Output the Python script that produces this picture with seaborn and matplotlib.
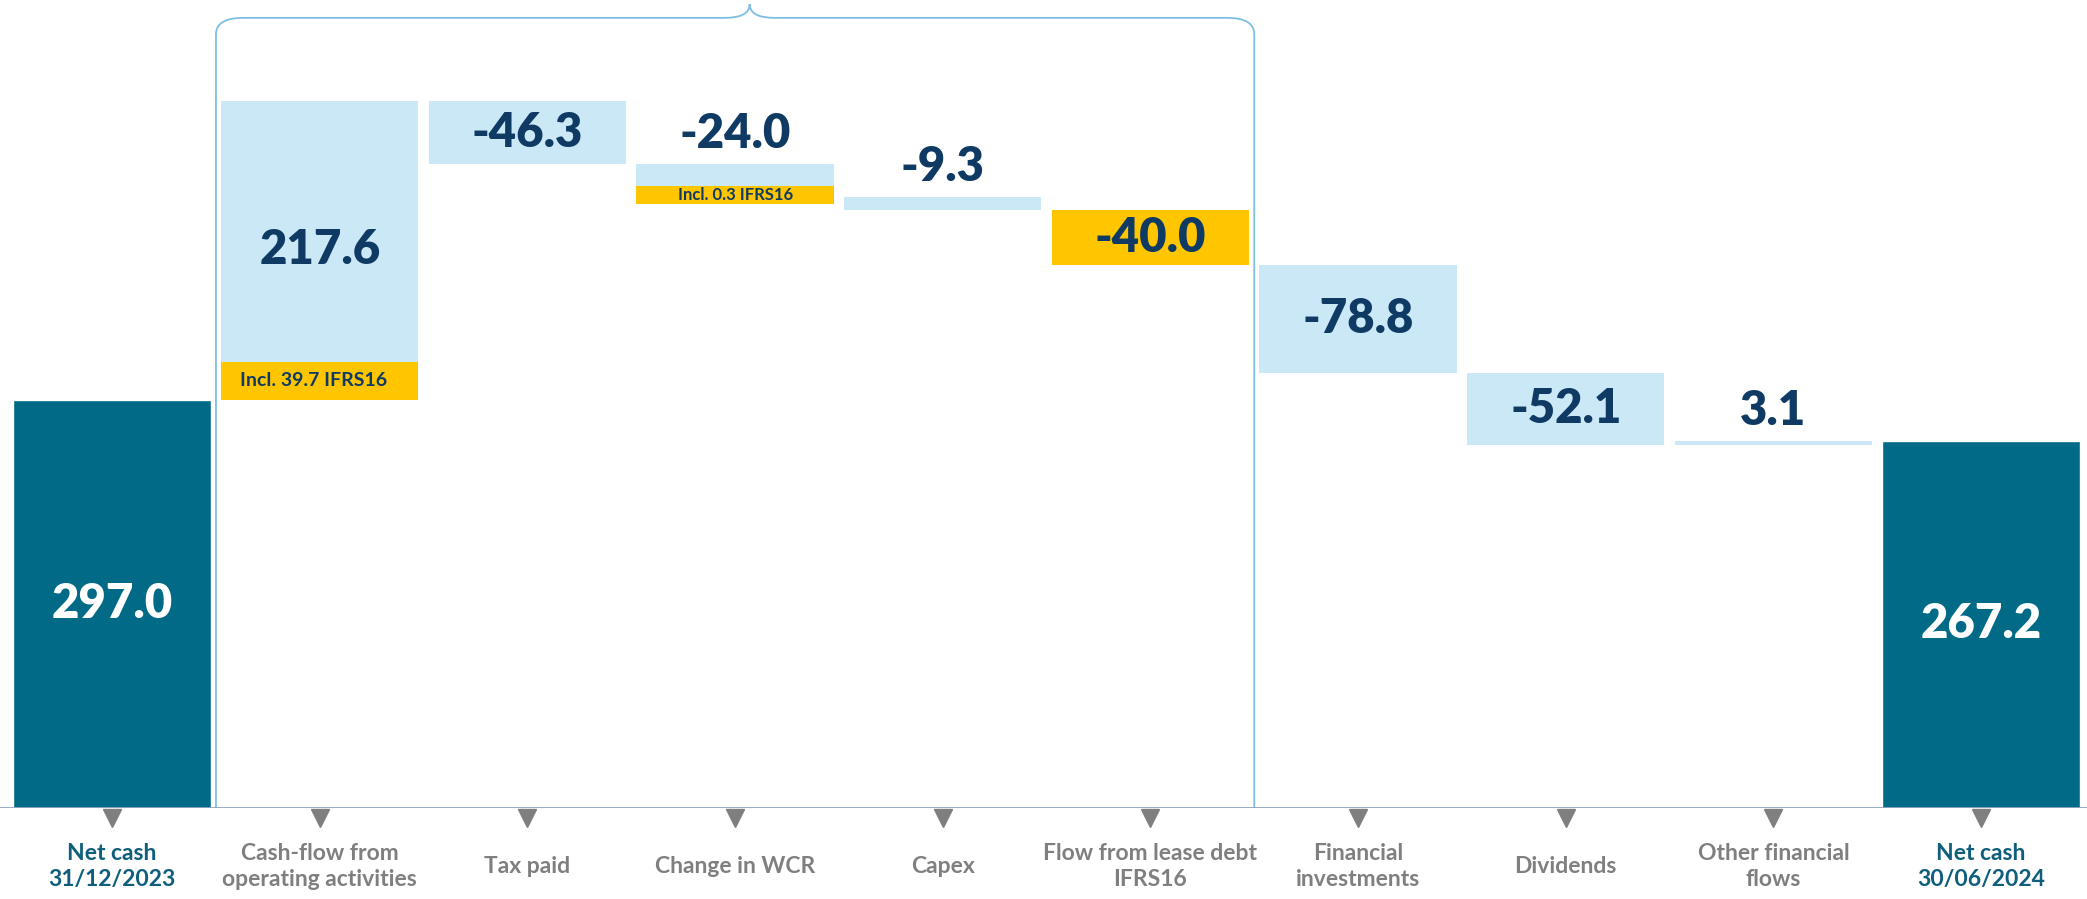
import numpy as np
import pandas as pd
import matplotlib
matplotlib.use("Agg")
import matplotlib.pyplot as plt
import seaborn as sns
from matplotlib.path import Path
from matplotlib.patches import PathPatch

# ---------------- data ----------------
categories = ["Net cash\n31/12/2023", "Cash-flow from\noperating activities", "Tax paid",
              "Change in WCR", "Capex", "Flow from lease debt\nIFRS16", "Financial\ninvestments",
              "Dividends", "Other financial\nflows", "Net cash\n30/06/2024"]
start_cash = 297.0
end_cash = 267.2
flows = [217.6, -46.3, -24.0, -9.3, -40.0, -78.8, -52.1, 3.1]
value_labels = ["217.6", "-46.3", "-24.0", "-9.3", "-40.0", "-78.8", "-52.1", "3.1"]
ifrs16_notes = {1: "Incl. 39.7 IFRS16", 3: "Incl. 0.3 IFRS16"}
lease_idx = 5

# ---------------- style ----------------
TEAL = "#006A87"
LIGHT = "#CBE8F6"
YELLOW = "#FFC600"
NAVY = "#0E3A64"
GREY = "#7F7F7F"
TEAL_TXT = "#0F5E7C"
BRACE = "#7DBFE3"
W = 0.95
VAL_FS = 34

sns.set_theme(style="white")
plt.rcParams["font.family"] = ["Lato", "DejaVu Sans"]

fig = plt.figure(figsize=(20.87, 8.99), dpi=100)
ax = fig.add_axes([0, 91 / 899, 1, 808 / 899])

# totals through seaborn
tot = pd.DataFrame({"cat": [categories[0], categories[-1]], "value": [start_cash, end_cash]})
sns.barplot(data=tot, x="cat", y="value", order=categories, color=TEAL,
            saturation=1, width=W, ax=ax)

# floating steps
levels = start_cash + np.cumsum([0] + flows)
prev = levels[:-1]
new = levels[1:]
bottoms = np.minimum(prev, new)
heights = np.abs(flows)
pos = np.arange(1, len(flows) + 1)
colors = [YELLOW if p == lease_idx else LIGHT for p in pos]
ax.bar(pos, heights, bottom=bottoms, width=W, color=colors, linewidth=0, zorder=2)

# IFRS16 strips
strip_h = {1: 27.6, 3: 13.0}
strip_drop = {1: 0.0, 3: 4.7}
for p, txt in ifrs16_notes.items():
    b = bottoms[p - 1] - strip_drop[p]
    ax.bar(p, strip_h[p], bottom=b, width=W, color=YELLOW, linewidth=0, zorder=3)
    ax.text(p - 0.03 if p == 1 else p, b + strip_h[p] / 2, txt, ha="center", va="center",
            color=NAVY, fontsize=14 if p == 1 else 12, fontweight="bold", zorder=4)

# value labels
for p, b, h, lab in zip(pos, bottoms, heights, value_labels):
    if h < 30:
        ax.text(p, b + h + 6, lab, ha="center", va="bottom", color=NAVY,
                fontsize=VAL_FS, fontweight="heavy", zorder=4)
    else:
        ax.text(p, b + h / 2, lab, ha="center", va="center", color=NAVY,
                fontsize=VAL_FS, fontweight="heavy", zorder=4)

ax.text(0, start_cash / 2, f"{start_cash:.1f}", ha="center", va="center",
        color="white", fontsize=VAL_FS, fontweight="heavy")
ax.text(len(categories) - 1, end_cash / 2, f"{end_cash:.1f}", ha="center", va="center",
        color="white", fontsize=VAL_FS, fontweight="heavy")

# brace over operating flows
yh, yt, r_y, r_x = 575, 585, 12, 0.13
xl, xr = 0.5, 5.5
xm = 3.07
verts = [(xl, 0), (xl, yh - r_y), (xl, yh), (xl + r_x, yh), (xm - 0.12, yh), (xm, yh), (xm, yt),
         (xm, yh), (xm + 0.12, yh), (xr - r_x, yh), (xr, yh), (xr, yh - r_y), (xr, 0)]
codes = [Path.MOVETO, Path.LINETO, Path.CURVE3, Path.CURVE3, Path.LINETO, Path.CURVE3, Path.CURVE3,
         Path.CURVE3, Path.CURVE3, Path.LINETO, Path.CURVE3, Path.CURVE3, Path.LINETO]
ax.add_patch(PathPatch(Path(verts, codes), fill=False, edgecolor=BRACE, lw=1.3,
                       clip_on=False, zorder=1))

# axis line, markers and category labels
ax.axhline(0, color="#8EA4BC", lw=2, zorder=5)
xt = ax.get_xaxis_transform()
ax.plot(np.arange(len(categories)), [-0.0125] * len(categories), "v", color=GREY,
        markersize=13, transform=xt, clip_on=False)
for i, c in enumerate(categories):
    is_total = i in (0, len(categories) - 1)
    ax.text(i, -0.072, c, transform=xt, ha="center", va="center", linespacing=1.3,
            color=TEAL_TXT if is_total else GREY, fontsize=16.5, fontweight="bold")

ax.set_xlim(-0.54, 9.51)
ax.set_ylim(0, 588)
ax.set_xticks([])
ax.set_yticks([])
ax.set_xlabel("")
ax.set_ylabel("")
for s in ax.spines.values():
    s.set_visible(False)

fig.savefig("out.png", dpi=100)
